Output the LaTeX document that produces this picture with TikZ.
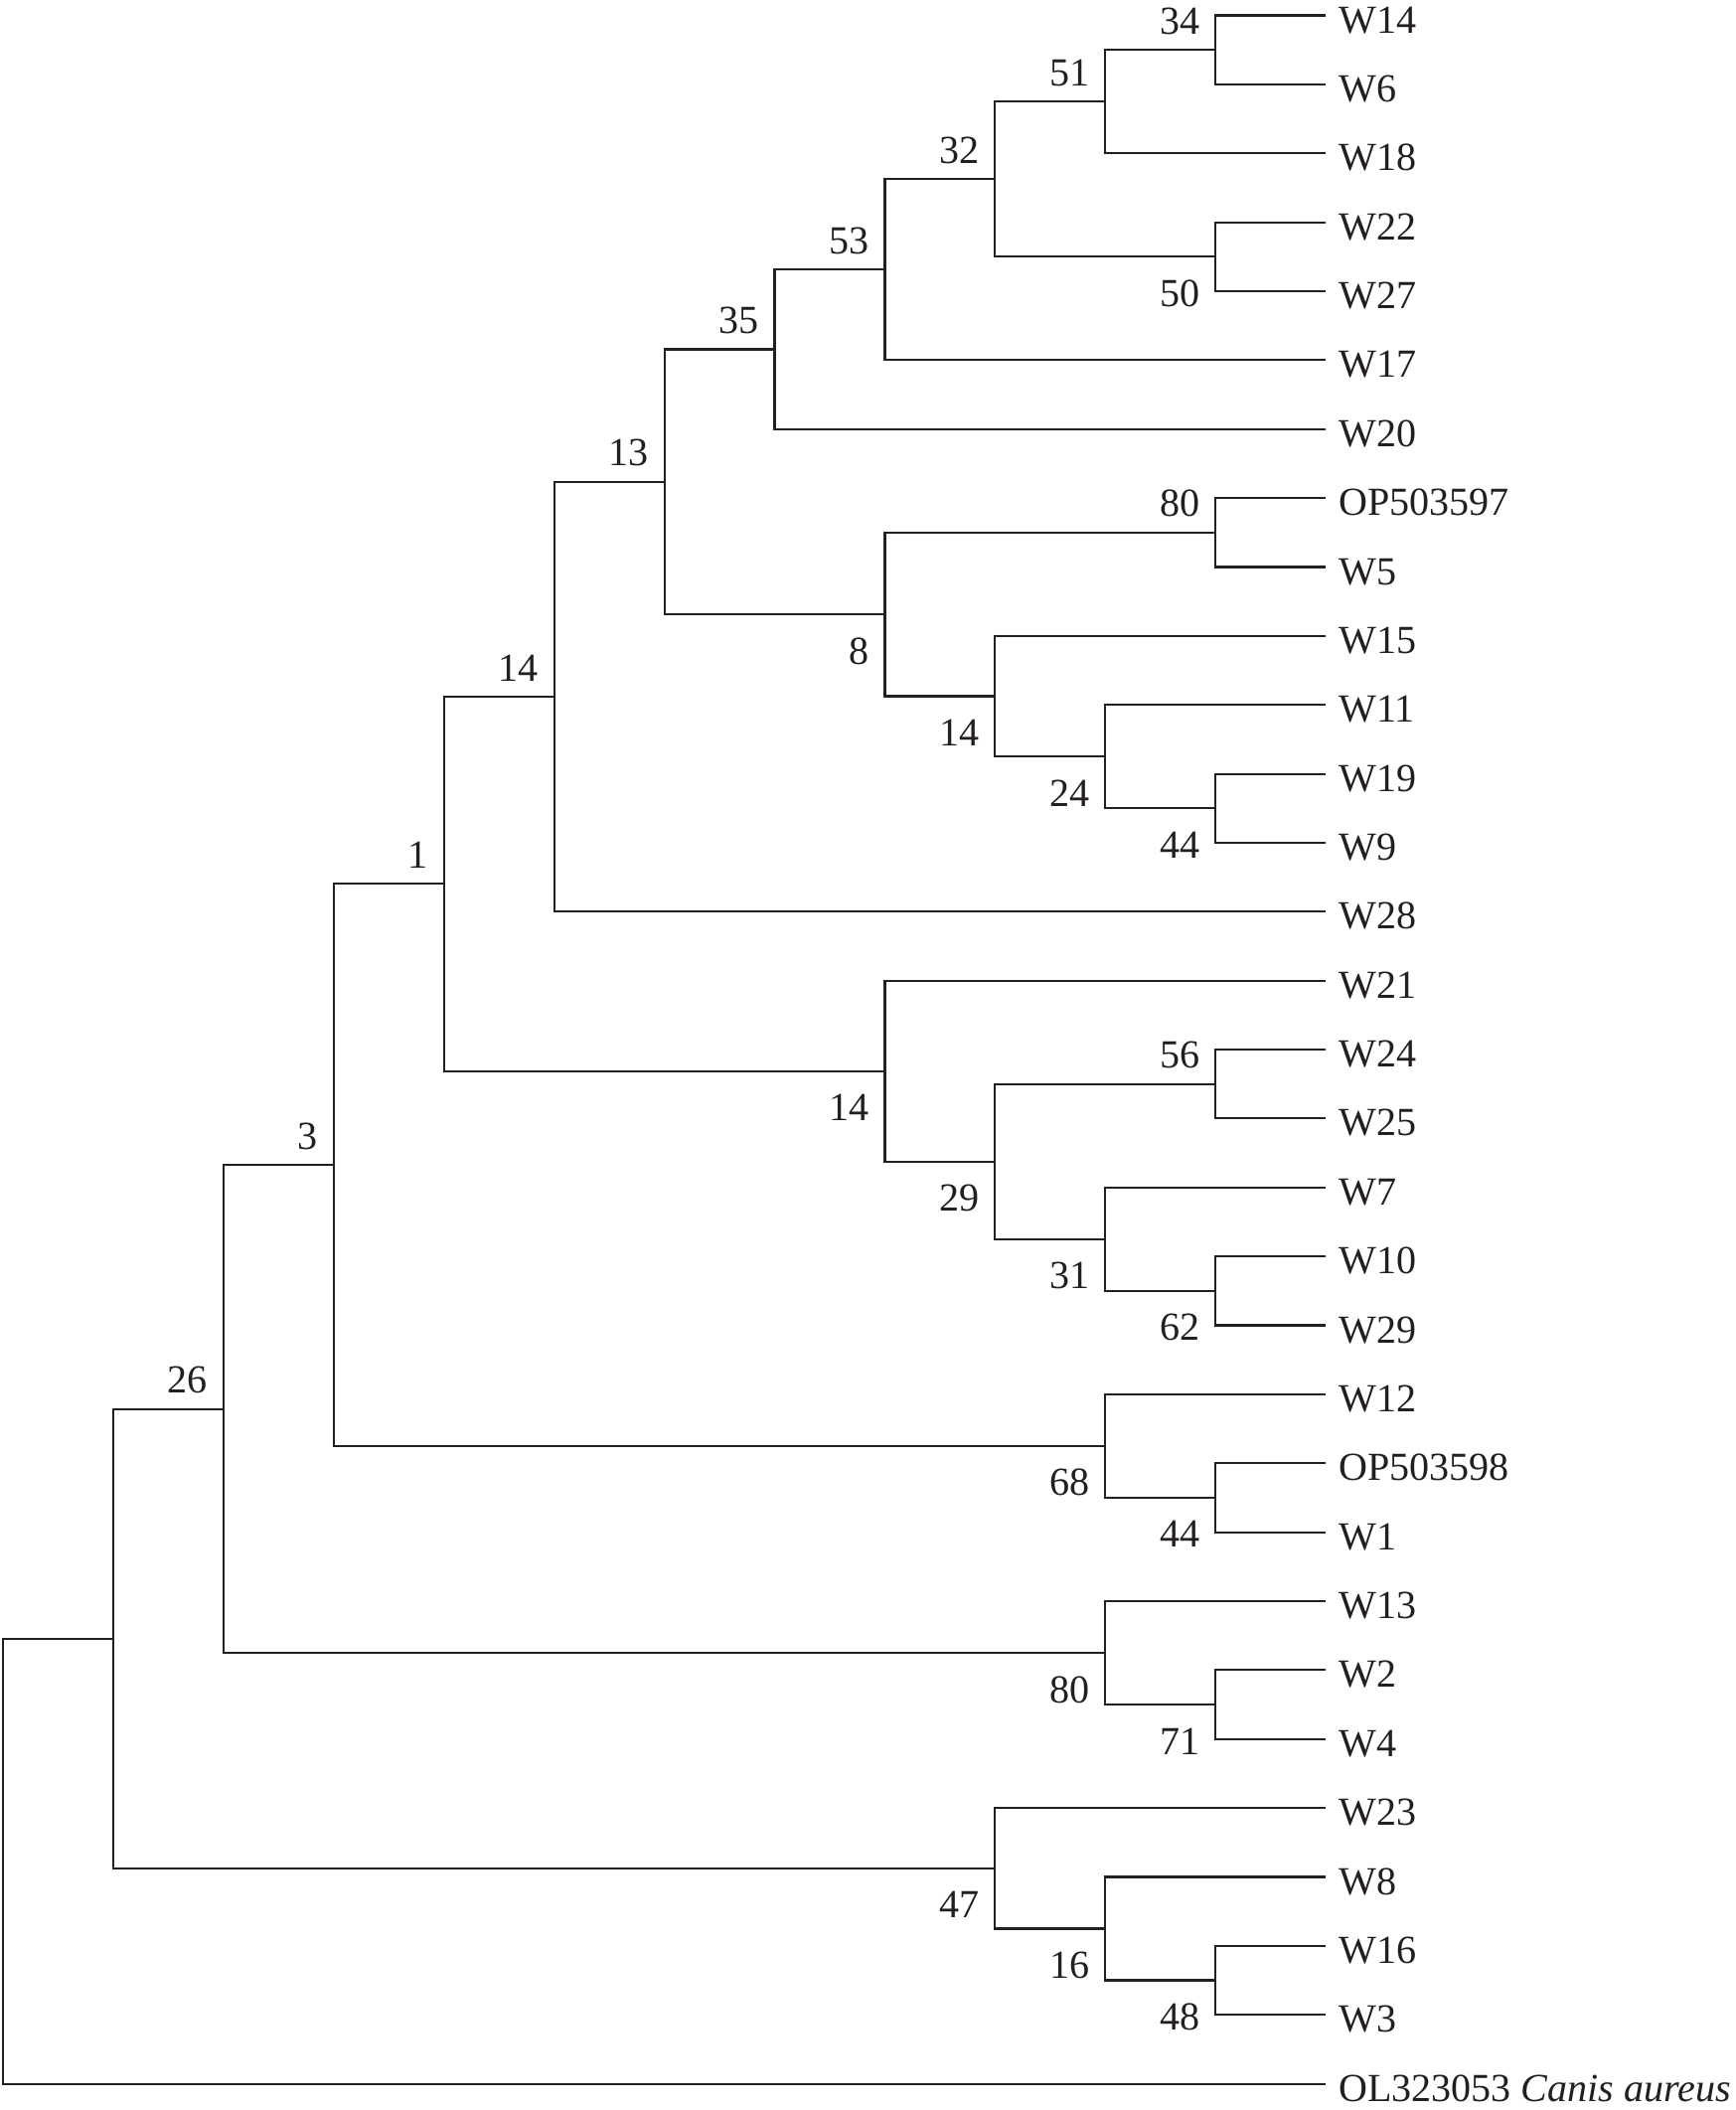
\documentclass[tikz,border=0pt]{standalone}
\usepackage{fontspec}
\setmainfont{Liberation Serif}
\usepackage{xcolor}
\definecolor{ink}{RGB}{35,31,32}

\begin{document}
\begin{tikzpicture}[
    x=0.01cm,
    y=-0.6937cm,
    line width=0.6pt,
    draw=ink,
    text=ink,
    font=\fontsize{11.4}{13}\selectfont,
    leaf/.style={anchor=west, inner sep=0pt, outer xsep=0.13cm, text height=1em, text depth=0pt},
    bsup/.style={anchor=base east, inner sep=0pt, xshift=-0.15cm, yshift=0.16cm},
    bsdown/.style={anchor=base east, inner sep=0pt, xshift=-0.15cm, yshift=-0.50cm}
]
    \useasboundingbox (0,0.7766) rectangle (1748,31.381);

    % Leaves, one per row, tips at x=1335
    \node[leaf] (w14) at (1335,1) {W14};
    \node[leaf] (w6) at (1335,2) {W6};
    \node[leaf] (w18) at (1335,3) {W18};
    \node[leaf] (w22) at (1335,4) {W22};
    \node[leaf] (w27) at (1335,5) {W27};
    \node[leaf] (w17) at (1335,6) {W17};
    \node[leaf] (w20) at (1335,7) {W20};
    \node[leaf] (op97) at (1335,8) {OP503597};
    \node[leaf] (w5) at (1335,9) {W5};
    \node[leaf] (w15) at (1335,10) {W15};
    \node[leaf] (w11) at (1335,11) {W11};
    \node[leaf] (w19) at (1335,12) {W19};
    \node[leaf] (w9) at (1335,13) {W9};
    \node[leaf] (w28) at (1335,14) {W28};
    \node[leaf] (w21) at (1335,15) {W21};
    \node[leaf] (w24) at (1335,16) {W24};
    \node[leaf] (w25) at (1335,17) {W25};
    \node[leaf] (w7) at (1335,18) {W7};
    \node[leaf] (w10) at (1335,19) {W10};
    \node[leaf] (w29) at (1335,20) {W29};
    \node[leaf] (w12) at (1335,21) {W12};
    \node[leaf] (op98) at (1335,22) {OP503598};
    \node[leaf] (w1) at (1335,23) {W1};
    \node[leaf] (w13) at (1335,24) {W13};
    \node[leaf] (w2) at (1335,25) {W2};
    \node[leaf] (w4) at (1335,26) {W4};
    \node[leaf] (w23) at (1335,27) {W23};
    \node[leaf] (w8) at (1335,28) {W8};
    \node[leaf] (w16) at (1335,29) {W16};
    \node[leaf] (w3) at (1335,30) {W3};
    \node[leaf] (ol) at (1335,31) {OL323053 \textit{Canis aureus}};

    % Internal nodes (x = depth level, y = mean of children)
    \coordinate (n34) at (1224,1.5);
    \coordinate (n51) at (1113,2.25);
    \coordinate (n50) at (1224,4.5);
    \coordinate (n32) at (1002,3.375);
    \coordinate (n53) at (891,4.6875);
    \coordinate (n35) at (780,5.844);
    \coordinate (n80a) at (1224,8.5);
    \coordinate (n44a) at (1224,12.5);
    \coordinate (n24) at (1113,11.75);
    \coordinate (n14a) at (1002,10.875);
    \coordinate (n8) at (891,9.6875);
    \coordinate (n13) at (669,7.766);
    \coordinate (n14b) at (558,10.883);
    \coordinate (n56) at (1224,16.5);
    \coordinate (n62) at (1224,19.5);
    \coordinate (n31) at (1113,18.75);
    \coordinate (n29) at (1002,17.625);
    \coordinate (n14c) at (891,16.3125);
    \coordinate (n1) at (447,13.598);
    \coordinate (n44b) at (1224,22.5);
    \coordinate (n68) at (1113,21.75);
    \coordinate (n3) at (336,17.674);
    \coordinate (n71) at (1224,25.5);
    \coordinate (n80b) at (1113,24.75);
    \coordinate (n26) at (225,21.212);
    \coordinate (n48) at (1224,29.5);
    \coordinate (n16) at (1113,28.75);
    \coordinate (n47) at (1002,27.875);
    \coordinate (n0) at (114,24.543);
    \coordinate (root) at (3,27.772);

    % Branches
    \draw (w14.west) -| (n34) |- (w6.west);
    \draw (n34) -| (n51) |- (w18.west);
    \draw (w22.west) -| (n50) |- (w27.west);
    \draw (n51) -| (n32) |- (n50);
    \draw (n32) -| (n53) |- (w17.west);
    \draw (n53) -| (n35) |- (w20.west);
    \draw (op97.west) -| (n80a) |- (w5.west);
    \draw (w19.west) -| (n44a) |- (w9.west);
    \draw (w11.west) -| (n24) |- (n44a);
    \draw (w15.west) -| (n14a) |- (n24);
    \draw (n80a) -| (n8) |- (n14a);
    \draw (n35) -| (n13) |- (n8);
    \draw (n13) -| (n14b) |- (w28.west);
    \draw (w24.west) -| (n56) |- (w25.west);
    \draw (w10.west) -| (n62) |- (w29.west);
    \draw (w7.west) -| (n31) |- (n62);
    \draw (n56) -| (n29) |- (n31);
    \draw (w21.west) -| (n14c) |- (n29);
    \draw (n14b) -| (n1) |- (n14c);
    \draw (op98.west) -| (n44b) |- (w1.west);
    \draw (w12.west) -| (n68) |- (n44b);
    \draw (n1) -| (n3) |- (n68);
    \draw (w2.west) -| (n71) |- (w4.west);
    \draw (w13.west) -| (n80b) |- (n71);
    \draw (n3) -| (n26) |- (n80b);
    \draw (w16.west) -| (n48) |- (w3.west);
    \draw (w8.west) -| (n16) |- (n48);
    \draw (w23.west) -| (n47) |- (n16);
    \draw (n26) -| (n0) |- (n47);
    \draw (n0) -| (root) |- (ol.west);

    % Bootstrap values
    \node[bsup] (l34) at (n34) {34};
    \node[bsup] (l51) at (n51) {51};
    \node[bsup] (l32) at (n32) {32};
    \node[bsup] (l53) at (n53) {53};
    \node[bsup] (l35) at (n35) {35};
    \node[bsup] (l13) at (n13) {13};
    \node[bsup] (l80a) at (n80a) {80};
    \node[bsup] (l14b) at (n14b) {14};
    \node[bsup] (l1) at (n1) {1};
    \node[bsup] (l56) at (n56) {56};
    \node[bsup] (l3) at (n3) {3};
    \node[bsup] (l26) at (n26) {26};
    \node[bsdown] (l50) at (n50) {50};
    \node[bsdown] (l8) at (n8) {8};
    \node[bsdown] (l14a) at (n14a) {14};
    \node[bsdown] (l24) at (n24) {24};
    \node[bsdown] (l44a) at (n44a) {44};
    \node[bsdown] (l14c) at (n14c) {14};
    \node[bsdown] (l29) at (n29) {29};
    \node[bsdown] (l31) at (n31) {31};
    \node[bsdown] (l62) at (n62) {62};
    \node[bsdown] (l68) at (n68) {68};
    \node[bsdown] (l44b) at (n44b) {44};
    \node[bsdown] (l80b) at (n80b) {80};
    \node[bsdown] (l71) at (n71) {71};
    \node[bsdown] (l47) at (n47) {47};
    \node[bsdown] (l16) at (n16) {16};
    \node[bsdown] (l48) at (n48) {48};
\end{tikzpicture}
\end{document}
